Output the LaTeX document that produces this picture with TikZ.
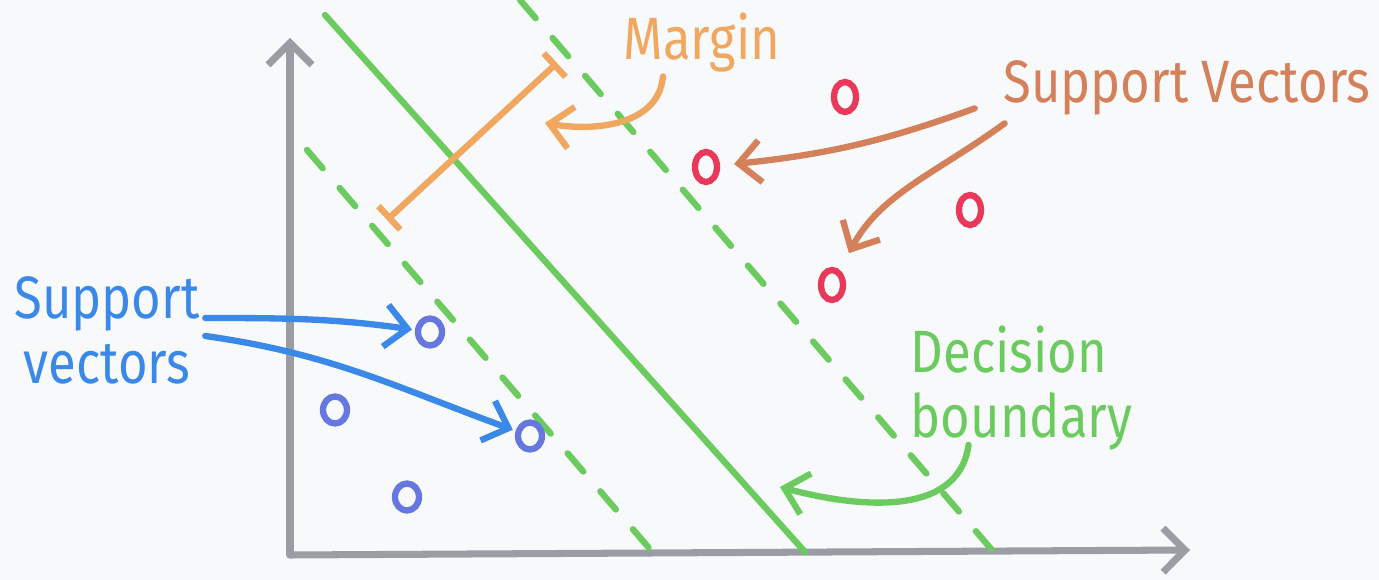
\documentclass[tikz,border=0pt]{standalone}
\usepackage{fontspec}
\newfontfamily\handfont[FakeStretch=0.85]{Fira Sans}
\usetikzlibrary{arrows.meta,calc,shapes.geometric}
\definecolor{paper}{HTML}{F8F9FA}
\definecolor{axisgray}{HTML}{9A9DA3}
\definecolor{bndgreen}{HTML}{6CCB5F}
\definecolor{mrgorange}{HTML}{F0A860}
\definecolor{svbrown}{HTML}{D4805A}
\definecolor{ptred}{HTML}{E8395A}
\definecolor{svblue}{HTML}{3A88E8}
\definecolor{ptblue}{HTML}{6677E0}

\begin{document}
\begin{tikzpicture}[
   pt/.style={ellipse,line width=1.8pt,inner sep=0pt,fill=paper},
   redpt/.style={pt,draw=ptred,minimum width=2.2mm,minimum height=3mm},
   bluept/.style={pt,draw=ptblue,minimum width=2.4mm,minimum height=2.7mm},
   lbl/.style={font=\handfont\fontsize{17}{18.5}\selectfont,inner sep=0pt},
   pen/.style={line width=1.8pt,line cap=round},
   hand/.style={pen,-{Straight Barb[length=2.2mm,width=4.2mm]}},
   axis/.style={pen,line width=2pt,draw=axisgray,-{Straight Barb[length=2.2mm,width=4.4mm]}},
   bnd/.style={pen,draw=bndgreen},
   bnddash/.style={bnd,dash pattern=on 2.4mm off 2.6mm}]
   \useasboundingbox (0,0) rectangle (13.79,5.80);
   \fill[paper] (0,0) rectangle (13.79,5.80);
   % axes
   \coordinate (o) at (2.90,0.25);
   \coordinate (ytop) at (2.90,5.42);
   \coordinate (xend) at (11.90,0.30);
   \draw[axis] (o) -- (ytop);
   \draw[axis] (o) -- (xend);
   % boundary and the two margins
   \draw[bnd] (3.25,5.65) -- (8.05,0.28);
   \draw[bnddash] (5.20,5.80) -- (9.92,0.30);
   \draw[bnddash] (3.07,4.30) -- (6.55,0.25);
   % points
   \path   (8.45,4.83) node (r1) [redpt] {}
           (7.06,4.13) node (r2) [redpt] {}
           (9.70,3.70) node (r3) [redpt] {}
           (8.32,2.95) node (r4) [redpt] {};
   \path   (4.30,2.48) node (b1) [bluept] {}
           (3.35,1.70) node (b2) [bluept] {}
           (5.30,1.44) node (b3) [bluept] {}
           (4.07,0.83) node (b4) [bluept] {};
   % margin
   \coordinate (m1) at (3.87,3.60);
   \coordinate (m2) at (5.57,5.17);
   \draw[pen,draw=mrgorange,{Bar[width=3.2mm]}-{Bar[width=3.2mm]}] (m1) -- (m2);
   \node (mrg) [lbl,text=mrgorange,anchor=base] at (7.02,5.20) {Margin};
   \coordinate (mtip) at (5.45,4.57);
   \draw[hand,draw=mrgorange] ($(mrg.south)+(-0.39,-0.03)$) to[out=265,in=350] (mtip);
   % labels
   \node (svR) [lbl,text=svbrown,anchor=base] at (11.87,4.77) {Support Vectors};
   \draw[hand,draw=svbrown,shorten >=1.4mm] ($(svR.west)+(-0.28,-0.2)$) to[out=200,in=6] (r2);
   \draw[hand,draw=svbrown,shorten >=1.9mm] ($(svR.west)+(0.02,-0.35)$) to[out=216,in=62] (r4);
   \node (svL) [lbl,text=svblue,align=center] at (1.07,2.50) {Support\\vectors};
   \draw[hand,draw=svblue,shorten >=0.3mm] ($(svL.east)+(0.05,0.12)$) to[out=0,in=172] (b1);
   \draw[hand,draw=svblue,shorten >=0.3mm] ($(svL.east)+(0.05,-0.06)$) to[out=-8,in=160] (b3);
   \node (db) [lbl,text=bndgreen,align=left,anchor=west] at (9.10,1.92) {Decision\\boundary};
   \coordinate (dtip) at (7.80,0.93);
   \draw[hand,draw=bndgreen] ($(db.south)+(-0.53,0.06)$) to[out=262,in=345] (dtip);
\end{tikzpicture}
\end{document}
